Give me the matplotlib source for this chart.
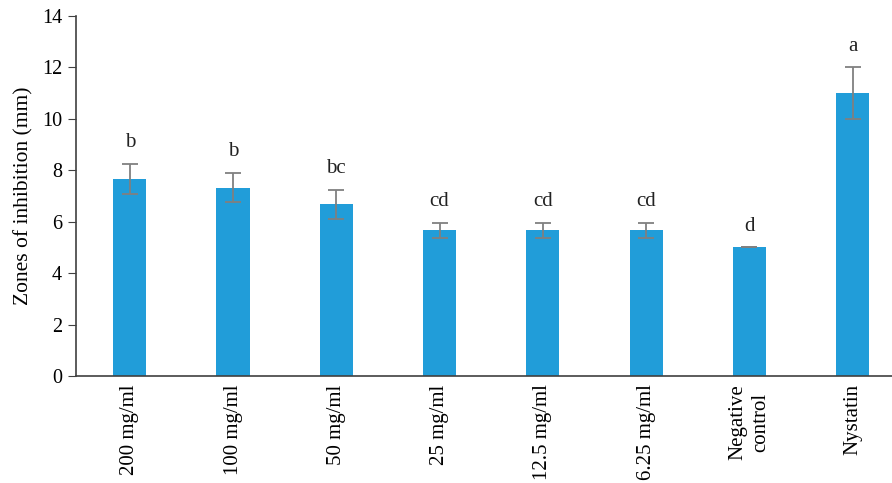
import numpy as np
import matplotlib.pyplot as plt

plt.rcParams['font.family'] = ['Liberation Serif', 'DejaVu Serif']

groups = ['200 mg/ml', '100 mg/ml', '50 mg/ml', '25 mg/ml', '12.5 mg/ml',
          '6.25 mg/ml', 'Negative\ncontrol', 'Nystatin']
means = [7.67, 7.33, 6.67, 5.67, 5.67, 5.67, 5.0, 11.0]
errors = [0.58, 0.58, 0.58, 0.29, 0.29, 0.29, 0.0, 1.0]
letters = ['b', 'b', 'bc', 'cd', 'cd', 'cd', 'd', 'a']

axis_col = '#404040'

fig = plt.figure(figsize=(8.92, 4.83), dpi=100)
ax = fig.add_axes([76/892, 1-376/483, 1-76/892, 360/483])

x = np.arange(len(groups))
ax.bar(x, means, width=0.32, color='#219dd9', zorder=2)
ax.errorbar(x, means, yerr=errors, fmt='none', ecolor='#808080',
            elinewidth=1.3, capsize=6, capthick=1.3, zorder=3)
for xi, m, e, t in zip(x, means, errors, letters):
    ax.text(xi, m + e + 0.45, t, ha='center', va='bottom', fontsize=15, color='#222222')

ax.set_xlim(-0.52, 7.38)
ax.set_ylim(0, 14)
ax.set_yticks(range(0, 15, 2))
ax.set_xticks(x)
ax.set_xticklabels(groups, rotation=90, fontsize=15, linespacing=1.3)
ax.tick_params(axis='y', labelsize=14.5, direction='out', length=6, color=axis_col, pad=4)
ax.tick_params(axis='x', length=0, pad=6)
ax.set_ylabel('Zones of inhibition (mm)', fontsize=15.5, labelpad=6)

for s in ['top', 'right']:
    ax.spines[s].set_visible(False)
for s in ['left', 'bottom']:
    ax.spines[s].set_color(axis_col)
    ax.spines[s].set_linewidth(1.2)

fig.savefig('out.png', dpi=100)
